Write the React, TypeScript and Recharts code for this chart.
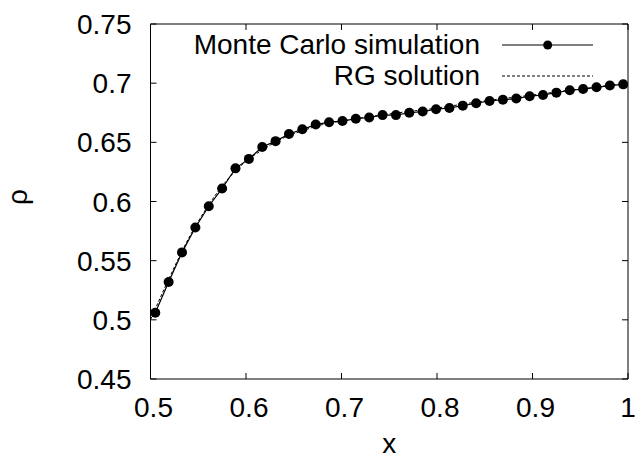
// Monte Carlo vs RG solution, gnuplot-style framed plot with inward ticks.
import { LineChart, Line, XAxis, YAxis, Legend } from "recharts";

const FONT = "'Liberation Sans', Arial, Helvetica, sans-serif";

// Monte Carlo samples
const mcX = [
  0.505, 0.519, 0.533, 0.547, 0.561, 0.575, 0.589, 0.603, 0.617, 0.631, 0.645, 0.659,
  0.673, 0.687, 0.701, 0.715, 0.729, 0.743, 0.757, 0.771, 0.785, 0.799, 0.813, 0.827,
  0.841, 0.855, 0.869, 0.883, 0.897, 0.911, 0.925, 0.939, 0.953, 0.967, 0.981, 0.995,
];
const mcY = [
  0.506, 0.532, 0.557, 0.578, 0.596, 0.611, 0.628, 0.636, 0.646, 0.651, 0.657, 0.661,
  0.665, 0.667, 0.668, 0.670, 0.671, 0.673, 0.673, 0.675, 0.676, 0.678, 0.679, 0.681,
  0.683, 0.685, 0.686, 0.687, 0.689, 0.690, 0.692, 0.694, 0.695, 0.6965, 0.698, 0.699,
];

// RG solution curve
const rgX = [0.5, 0.52, 0.54, 0.56, 0.58, 0.6, 0.62, 0.64, 0.66, 0.68, 0.7, 0.75, 0.8, 0.85, 0.9, 0.95, 1.0];
const rgY = [0.5, 0.536, 0.569, 0.596, 0.618, 0.634, 0.645, 0.654, 0.66, 0.665, 0.668, 0.674, 0.679, 0.685, 0.69, 0.695, 0.7];

const xTicks = [0.5, 0.6, 0.7, 0.8, 0.9, 1];
const yTicks = [0.45, 0.5, 0.55, 0.6, 0.65, 0.7, 0.75];

const mcData = mcX.map((x, i) => ({ x, y: mcY[i] }));
const rgData = rgX.map((x, i) => ({ x, y: rgY[i] }));

const fmt = (v: number) => String(Number(v.toFixed(2)));

function BottomTick({ x, y, payload }: any) {
  // last label sits at the window edge, keep it inside
  const dx = payload.value === 1 ? 0 : 3;
  return (
    <g>
      <line x1={x} y1={y} x2={x} y2={y - 6} stroke="#000" strokeWidth={1} />
      <text x={x + dx} y={y + 38} textAnchor="middle" fontFamily={FONT} fontSize={28} fill="#000">
        {fmt(payload.value)}
      </text>
    </g>
  );
}

function TopTick({ x, y }: any) {
  return <line x1={x} y1={y} x2={x} y2={y + 6} stroke="#000" strokeWidth={1} />;
}

function LeftTick({ x, y, payload }: any) {
  return (
    <g>
      <line x1={x} y1={y} x2={x + 6} y2={y} stroke="#000" strokeWidth={1} />
      <text x={x - 19} y={y + 10} textAnchor="end" fontFamily={FONT} fontSize={28} fill="#000">
        {fmt(payload.value)}
      </text>
    </g>
  );
}

function RightTick({ x, y }: any) {
  return <line x1={x} y1={y} x2={x - 6} y2={y} stroke="#000" strokeWidth={1} />;
}

function LegendBox({ payload }: any) {
  return (
    <div style={{ fontFamily: FONT, fontSize: 28, color: "#000" }}>
      {(payload || []).map((p: any) => {
        const dashed = p.value === "RG solution";
        return (
          <div key={p.value} style={{ display: "flex", alignItems: "center", height: 30.7 }}>
            <span style={{ width: 300, textAlign: "right", lineHeight: "30px", whiteSpace: "nowrap" }}>
              {p.value}
            </span>
            <svg width={113} height={30} style={{ display: "block" }}>
              <line
                x1={22}
                y1={15}
                x2={113}
                y2={15}
                stroke="#000"
                strokeWidth={dashed ? 1 : 1.2}
                strokeDasharray={dashed ? "3 2" : undefined}
              />
              {!dashed && <circle cx={67.7} cy={15} r={4.5} fill="#000" />}
            </svg>
          </div>
        );
      })}
    </div>
  );
}

export default function App() {
  return (
    <div style={{ position: "absolute", left: 0, top: 0, width: 636, height: 460, background: "#fff" }}>
      <LineChart width={636} height={460} margin={{ top: 23, right: 7, bottom: 0, left: 0 }}>
        <XAxis
          xAxisId="b"
          type="number"
          dataKey="x"
          domain={[0.5, 1]}
          ticks={xTicks}
          allowDataOverflow
          height={81}
          stroke="#000"
          tickLine={false}
          tickSize={0}
          tickMargin={0}
          tick={<BottomTick />}
          label={{
            content: () => (
              <text x={389.3} y={453} textAnchor="middle" fontFamily={FONT} fontSize={28} fill="#000">
                x
              </text>
            ),
          }}
        />
        <XAxis
          xAxisId="t"
          orientation="top"
          type="number"
          dataKey="x"
          domain={[0.5, 1]}
          ticks={xTicks}
          allowDataOverflow
          height={1}
          stroke="#000"
          tickLine={false}
          tickSize={0}
          tickMargin={0}
          tick={<TopTick />}
        />
        <YAxis
          yAxisId="l"
          type="number"
          domain={[0.45, 0.75]}
          ticks={yTicks}
          allowDataOverflow
          width={150.5}
          stroke="#000"
          tickLine={false}
          tickSize={0}
          tickMargin={0}
          tick={<LeftTick />}
          label={{
            content: () => (
              <text
                x={0}
                y={0}
                transform="translate(27 197) rotate(-90)"
                textAnchor="middle"
                fontFamily={FONT}
                fontSize={28}
                fill="#000"
              >
                ρ
              </text>
            ),
          }}
        />
        <YAxis
          yAxisId="r"
          orientation="right"
          type="number"
          domain={[0.45, 0.75]}
          ticks={yTicks}
          allowDataOverflow
          width={1}
          stroke="#000"
          tickLine={false}
          tickSize={0}
          tickMargin={0}
          tick={<RightTick />}
        />
        <Legend
          layout="vertical"
          align="center"
          verticalAlign="middle"
          content={<LegendBox />}
          wrapperStyle={{ position: "absolute", top: 30, left: 180, width: 420 }}
        />
        <Line
          name="Monte Carlo simulation"
          data={mcData}
          xAxisId="b"
          yAxisId="l"
          dataKey="y"
          type="linear"
          stroke="#000"
          strokeWidth={1.2}
          dot={{ r: 5, fill: "#000", stroke: "none" }}
          isAnimationActive={false}
        />
        <Line
          name="RG solution"
          data={rgData}
          xAxisId="t"
          yAxisId="r"
          dataKey="y"
          type="monotone"
          stroke="#000"
          strokeWidth={1}
          strokeDasharray="3 2"
          dot={false}
          isAnimationActive={false}
        />
      </LineChart>
    </div>
  );
}
